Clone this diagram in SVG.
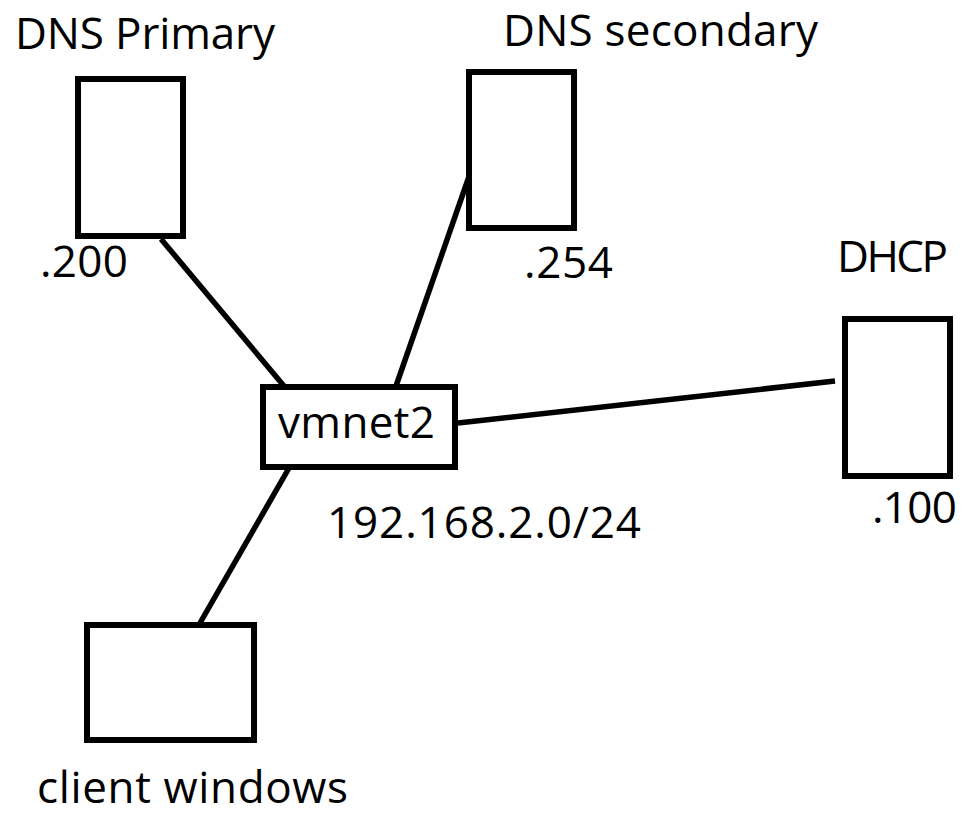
<svg xmlns="http://www.w3.org/2000/svg" width="965" height="817" viewBox="0 0 965 817">
  <style>
    .box { fill: #ffffff; stroke: #000000; stroke-width: 6; }
    .link { stroke: #000000; stroke-width: 5.5; stroke-linecap: butt; fill: none; }
    .lbl { font-family: "Open Sans", "Noto Sans", "Liberation Sans", sans-serif; font-size: 44px; fill: #000000; }
  </style>
  <rect x="0" y="0" width="965" height="817" fill="#ffffff"/>

  <!-- links between the hosts and the virtual switch -->
  <g id="connectors">
    <line class="link" x1="161" y1="239" x2="289" y2="392"/>
    <line class="link" x1="473" y1="165" x2="396" y2="386"/>
    <line class="link" x1="458" y1="423" x2="835" y2="381"/>
    <line class="link" x1="289" y1="468" x2="200" y2="623"/>
  </g>

  <g id="dns-primary">
    <rect class="box" x="78" y="79" width="105" height="157"/>
    <text class="lbl" x="15" y="49" textLength="260">DNS Primary</text>
    <text class="lbl" x="40" y="277" textLength="88">.200</text>
  </g>

  <g id="dns-secondary">
    <rect class="box" x="469" y="72" width="105" height="156"/>
    <text class="lbl" x="503" y="46" textLength="315">DNS secondary</text>
    <text class="lbl" x="524" y="278" textLength="89">.254</text>
  </g>

  <g id="dhcp">
    <rect class="box" x="845" y="319" width="105" height="157"/>
    <text class="lbl" x="837" y="272" textLength="111">DHCP</text>
    <text class="lbl" x="872" y="523" textLength="85">.100</text>
  </g>

  <g id="vmnet2">
    <rect class="box" x="263" y="387" width="192" height="80"/>
    <text class="lbl" x="278" y="438" textLength="157">vmnet2</text>
    <text class="lbl" x="327" y="538" textLength="314">192.168.2.0/24</text>
  </g>

  <g id="client-windows">
    <rect class="box" x="87" y="625" width="167" height="115"/>
    <text class="lbl" x="37" y="803" textLength="311">client windows</text>
  </g>
</svg>
